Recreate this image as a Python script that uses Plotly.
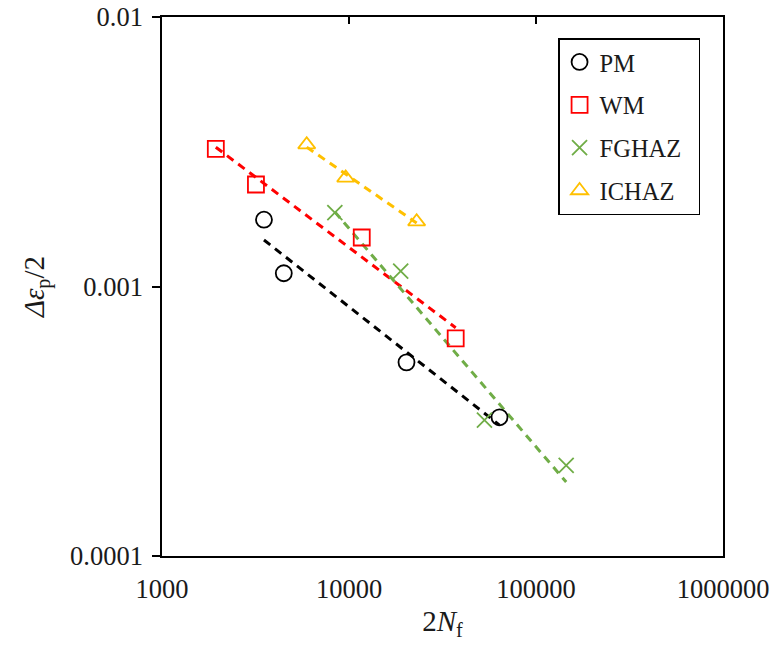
import numpy as np
import plotly.graph_objects as go

# Data
pm_n = [3510, 4480, 20300, 63800]
pm_e = [0.00177, 0.00112, 0.000523, 0.000327]
wm_n = [1940, 3180, 11700, 37200]
wm_e = [0.00324, 0.00239, 0.00152, 0.000642]
fg_n = [8400, 18900, 53000, 145000]
fg_e = [0.00188, 0.00114, 0.000319, 0.000217]
ic_n = [5940, 9600, 23000]
ic_e = [0.00336, 0.00253, 0.00174]

x_ticks = [1000, 10000, 100000, 1000000]
x_ticktext = ["1000", "10000", "100000", "1000000"]
y_ticks = [0.0001, 0.001, 0.01]
y_ticktext = ["0.0001", "0.001", "0.01"]

names = ["PM", "WM", "FGHAZ", "ICHAZ"]
colors = ["#000000", "#FF0000", "#70AD47", "#FFC000"]
symbols = ["circle-open", "square-open", "x-thin-open", "triangle-up-open"]
sizes = [16, 16, 15, 15]
series = [(pm_n, pm_e), (wm_n, wm_e), (fg_n, fg_e), (ic_n, ic_e)]

fig = go.Figure()
for (xs, ys), nm, c in zip(series, names, colors):
    lx, ly = np.log10(xs), np.log10(ys)
    b, a = np.polyfit(lx, ly, 1)
    xr = np.array([min(xs), max(xs)])
    fig.add_trace(go.Scatter(x=xr, y=10 ** (a + b * np.log10(xr)), mode="lines",
                             line=dict(color=c, width=3, dash="8px,6px"),
                             showlegend=False, hoverinfo="skip"))
for (xs, ys), nm, c, s, sz in zip(series, names, colors, symbols, sizes):
    fig.add_trace(go.Scatter(x=xs, y=ys, mode="markers",
                             name=nm + "\u00a0\u00a0", legendgroup=nm,
                             marker=dict(symbol=s, size=sz, color=c,
                                         line=dict(color=c, width=1.8))))
# invisible trace to host the top axis (tick marks only)
fig.add_trace(go.Scatter(x=[x_ticks[0]], y=[y_ticks[0]], xaxis="x2", mode="markers",
                         marker=dict(opacity=0), showlegend=False, hoverinfo="skip"))

font = dict(family="Liberation Serif", size=24, color="#1a1a1a")
fig.update_layout(
    width=775, height=648,
    margin=dict(l=162, r=52, t=17, b=92),
    plot_bgcolor="white", paper_bgcolor="white",
    font=font,
    legend=dict(x=0.706, y=0.961, xanchor="left", yanchor="top",
                bordercolor="black", borderwidth=1.5, bgcolor="white",
                tracegroupgap=8, font=dict(size=24.5), itemwidth=30),
    xaxis=dict(type="log", range=[3, 6], tickvals=x_ticks, ticktext=x_ticktext,
               showline=True, linecolor="black", linewidth=1.5, mirror=True,
               ticks="outside", ticklen=8, tickcolor="rgba(0,0,0,0)", showgrid=False,
               zeroline=False, ticklabelstandoff=0, automargin=False,
               tickfont=dict(size=26.5),
               title=dict(text="2<i>N</i><sub>f</sub>", standoff=8)),
    xaxis2=dict(type="log", range=[3, 6], overlaying="x", side="top", anchor="y",
                tickvals=x_ticks, showticklabels=False, ticks="inside", ticklen=7,
                tickwidth=1.5, tickcolor="black", showgrid=False, zeroline=False,
                showline=False, automargin=False),
    yaxis=dict(type="log", range=[-4, -2], tickvals=y_ticks, ticktext=y_ticktext,
               showline=True, linecolor="black", linewidth=1.5, mirror=True,
               ticks="outside", ticklen=8, tickwidth=1.5, tickcolor="black",
               showgrid=False, zeroline=False, ticklabelstandoff=4, automargin=False,
               tickfont=dict(size=26.5),
               title=dict(text="<i>Δε</i><sub>p</sub>/2", standoff=17)),
)
fig.write_html("out.html")
